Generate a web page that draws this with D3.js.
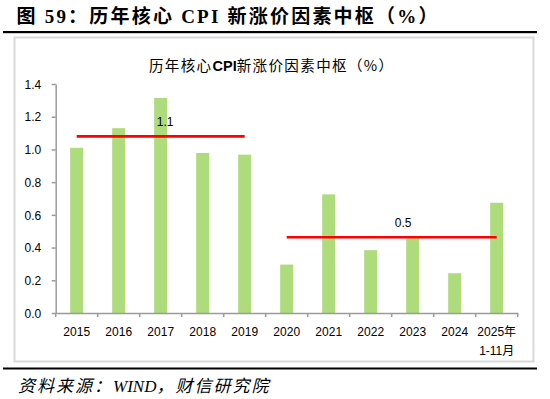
<!DOCTYPE html>
<html>
<head>
<meta charset="utf-8">
<script src="https://cdn.jsdelivr.net/npm/d3@7"></script>
<style>
  html, body { margin: 0; padding: 0; background: #fff; }
  svg { display: block; }
</style>
</head>
<body>
<svg id="chart" width="550" height="399"></svg>
<script>
// ---- data ----
const categories = ["2015","2016","2017","2018","2019","2020","2021","2022","2023","2024","2025年\n1-11月"];
const values = [1.01, 1.13, 1.315, 0.978, 0.968, 0.296, 0.725, 0.384, 0.457, 0.243, 0.674];
const yTicks = [0, 0.2, 0.4, 0.6, 0.8, 1.0, 1.2, 1.4];
// period centres (中枢): start category, end category, value, label
const centreStart = ["2015", "2020"];
const centreEnd = ["2019", "2025年\n1-11月"];
const centreValues = [1.08, 0.463];
const centreLabels = ["1.1", "0.5"];
const centreLabelAt = ["2017", "2023"];
const centreLabelDx = [4.5, -9.5];

const figTitle = "图 59：历年核心 CPI 新涨价因素中枢（%）";
const chartTitleParts = ["历年核心", "CPI", "新涨价因素中枢（%）"];
const sourceParts = ["资料来源：", "WIND", "，财信研究院"];

// ---- layout ----
const svg = d3.select("#chart");
const plot = { left: 55.7, right: 517.7, top: 84, bottom: 313 };

const x = d3.scaleBand().domain(categories).range([plot.left, plot.right]).paddingInner(0.69).paddingOuter(0.345);
const xc = d3.scaleBand().domain(categories).range([plot.left, plot.right]).padding(0);
const y = d3.scaleLinear().domain([0, 1.4]).range([plot.bottom, plot.top]);

// figure title
svg.append("text")
  .attr("x", 16.5).attr("y", 23)
  .attr("font-family", "'Liberation Serif', 'Noto Sans CJK SC', serif")
  .attr("font-weight", "bold").attr("font-size", 19)
  .attr("textLength", 421).attr("lengthAdjust", "spacing")
  .attr("fill", "#000")
  .text(figTitle);

// rule under title
svg.append("rect").attr("x", 3).attr("y", 31).attr("width", 534).attr("height", 2.2).attr("fill", "#000");

// chart frame
svg.append("rect").attr("x", 14.5).attr("y", 37.5).attr("width", 519).attr("height", 324)
  .attr("fill", "#fff").attr("stroke", "#d9d9d9").attr("stroke-width", 2);

// bottom rule
svg.append("rect").attr("x", 3).attr("y", 367.5).attr("width", 534).attr("height", 2).attr("fill", "#000");

// source
const src = svg.append("text")
  .attr("x", 18).attr("y", 392)
  .attr("font-family", "'Liberation Serif', 'Noto Sans CJK SC', serif")
  .attr("font-style", "italic").attr("font-size", 17)
  .attr("fill", "#000");
src.selectAll("tspan").data(sourceParts).join("tspan")
  .attr("letter-spacing", (d, i) => i === 1 ? 0 : 2)
  .text(d => d);

// chart title
const ct = svg.append("text")
  .attr("x", 271.7).attr("y", 71).attr("text-anchor", "middle")
  .attr("font-family", "'Noto Sans CJK SC', sans-serif")
  .attr("font-size", 14.5)
  .attr("fill", "#000");
ct.selectAll("tspan").data(chartTitleParts).join("tspan")
  .attr("font-family", (d, i) => i === 1 ? "'Liberation Sans', sans-serif" : null)
  .attr("font-weight", (d, i) => i === 1 ? "bold" : null)
  .attr("letter-spacing", (d, i) => i === 1 ? 0 : 1.4)
  .text(d => d);

// bars
svg.append("g").selectAll("rect").data(values).join("rect")
  .attr("x", (d, i) => x(categories[i]))
  .attr("width", x.bandwidth())
  .attr("y", d => y(d))
  .attr("height", d => y(0) - y(d))
  .attr("fill", "#aedb7c");

// y axis
const yAxis = d3.axisLeft(y).tickValues(yTicks).tickFormat(d3.format(".1f")).tickSize(4).tickSizeOuter(0);
const gy = svg.append("g").attr("transform", `translate(${plot.left},0)`).call(yAxis);
gy.select(".domain").attr("stroke", "#9a9a9a").attr("stroke-width", 1.5);
gy.selectAll(".tick line").attr("stroke", "#9a9a9a").attr("stroke-width", 1.5);
gy.selectAll(".tick text").attr("font-family", "'Liberation Sans', sans-serif")
  .attr("font-size", 12).attr("fill", "#000").attr("x", -14.5).attr("dy", "0.35em");

// x axis
const xAxis = d3.axisBottom(xc).tickSize(0).tickSizeOuter(0);
const gx = svg.append("g").attr("transform", `translate(0,${plot.bottom})`).call(xAxis);
gx.select(".domain").attr("stroke", "#9a9a9a").attr("stroke-width", 1.5);
gx.selectAll(".tick text").remove();
gx.selectAll(".tick line").remove();
// boundary ticks between categories
const bounds = categories.map(c => xc(c)).concat([xc(categories[categories.length - 1]) + xc.bandwidth()]);
gx.selectAll("line.b").data(bounds).join("line").attr("class", "b")
  .attr("x1", d => d).attr("x2", d => d).attr("y1", 0).attr("y2", 4)
  .attr("stroke", "#9a9a9a").attr("stroke-width", 1.5);
// labels
const lbl = gx.selectAll("text.lbl").data(categories).join("text").attr("class", "lbl")
  .attr("text-anchor", "middle")
  .attr("font-family", "'Liberation Sans', 'Noto Sans CJK SC', sans-serif")
  .attr("font-size", 12).attr("fill", "#000")
  .attr("transform", d => `translate(${xc(d) + xc.bandwidth() / 2},0)`);
lbl.each(function(d) {
  const lines = d.split("\n");
  d3.select(this).selectAll("tspan").data(lines).join("tspan")
    .attr("x", 0).attr("y", (l, i) => 23 + i * 18.5).text(l => l);
});

// centre lines
const cg = svg.append("g");
centreValues.forEach((v, i) => {
  const x1 = xc(centreStart[i]) + xc.bandwidth() / 2;
  const x2 = xc(centreEnd[i]) + xc.bandwidth() / 2;
  cg.append("line")
    .attr("x1", x1).attr("x2", x2).attr("y1", y(v)).attr("y2", y(v))
    .attr("stroke", "#ff0000").attr("stroke-width", 2.6);
  cg.append("text")
    .attr("x", xc(centreLabelAt[i]) + xc.bandwidth() / 2 + centreLabelDx[i])
    .attr("y", y(v) - 10)
    .attr("text-anchor", "middle")
    .attr("font-family", "'Liberation Sans', sans-serif")
    .attr("font-size", 12).attr("fill", "#000")
    .text(centreLabels[i]);
});
</script>
</body>
</html>
